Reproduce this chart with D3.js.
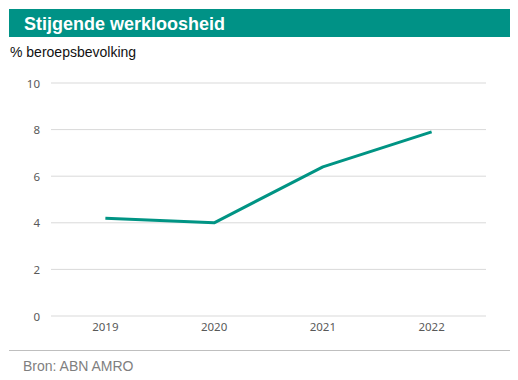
<!DOCTYPE html>
<html><head><meta charset="utf-8">
<script src="https://cdn.jsdelivr.net/npm/d3@7"></script>
<style>body{margin:0;background:#fff}svg{display:block}</style>
</head><body>
<script>
const categories = ["2019", "2020", "2021", "2022"];
const values = [4.2, 4.0, 6.4, 7.9];
const yTicks = [0, 2, 4, 6, 8, 10];
const title = "Stijgende werkloosheid";
const subtitle = "% beroepsbevolking";
const source = "Bron: ABN AMRO";

const W = 518, H = 380;
const svg = d3.select("body").append("svg").attr("width", W).attr("height", H);

svg.append("rect").attr("x", 9).attr("y", 9).attr("width", 501).attr("height", 28).attr("fill", "#009286");
svg.append("text").attr("x", 24).attr("y", 30).text(title)
  .attr("font-family", "Liberation Sans, Arial, sans-serif").attr("font-weight", "bold")
  .attr("font-size", 18).attr("fill", "#fff");
svg.append("text").attr("x", 10).attr("y", 57).text(subtitle)
  .attr("font-family", "Liberation Sans, Arial, sans-serif").attr("font-size", 14).attr("fill", "#111");

const x = d3.scaleBand().domain(categories).range([51, 486]);
const y = d3.scaleLinear().domain([0, 10]).range([316, 83]);

const grid = svg.append("g");
grid.selectAll("line").data(yTicks).join("line")
  .attr("x1", 51).attr("x2", 486)
  .attr("y1", d => y(d)).attr("y2", d => y(d))
  .attr("stroke", "#d9d9d9").attr("stroke-width", 1);

const tickFont = "Noto Sans, Carlito, sans-serif";
const yAxis = svg.append("g").attr("transform", "translate(40,0)")
  .call(d3.axisLeft(y).tickValues(yTicks).tickSize(0).tickPadding(0));
yAxis.select(".domain").remove();
yAxis.selectAll("text").attr("font-family", tickFont)
  .attr("font-size", 11.5).attr("fill", "#595959").attr("dy", "0.35em");

const xAxis = svg.append("g").attr("transform", "translate(0,323)")
  .call(d3.axisBottom(x).tickSize(0).tickPadding(0));
xAxis.select(".domain").remove();
xAxis.selectAll("text").attr("font-family", tickFont)
  .attr("font-size", 11.5).attr("fill", "#595959").attr("dy", "0.71em");

const line = d3.line().x((d, i) => x(categories[i]) + x.bandwidth() / 2).y(d => y(d));
svg.append("path").datum(values).attr("d", line)
  .attr("fill", "none").attr("stroke", "#009484").attr("stroke-width", 3)
  .attr("stroke-linejoin", "round");

svg.append("line").attr("x1", 9).attr("x2", 510).attr("y1", 350.5).attr("y2", 350.5)
  .attr("stroke", "#bfbfbf").attr("stroke-width", 1);
svg.append("text").attr("x", 23).attr("y", 371).text(source)
  .attr("font-family", "Liberation Sans, Arial, sans-serif").attr("font-size", 14).attr("fill", "#7f7f7f");
</script>
</body></html>
